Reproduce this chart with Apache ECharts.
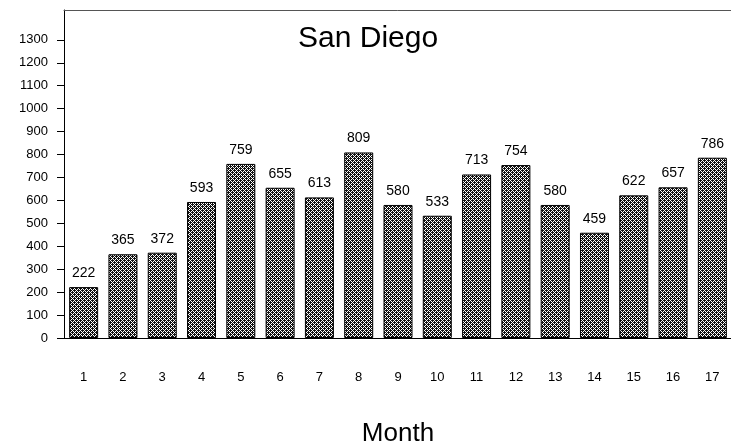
<!DOCTYPE html>
<html>
<head>
<meta charset="utf-8">
<script src="https://cdn.jsdelivr.net/npm/echarts@6/dist/echarts.min.js"></script>
<style>
  html, body { margin: 0; padding: 0; background: #fff; }
  #chart { width: 731px; height: 446px; }
</style>
</head>
<body>
<div id="chart"></div>
<script>
// data
const months = ['1', '2', '3', '4', '5', '6', '7', '8', '9', '10', '11', '12', '13', '14', '15', '16', '17'];
const counts = [222, 365, 372, 593, 759, 655, 613, 809, 580, 533, 713, 754, 580, 459, 622, 657, 786];
const yTicks = [0, 100, 200, 300, 400, 500, 600, 700, 800, 900, 1000, 1100, 1200, 1300];

const FONT = 'Liberation Sans';

// small crosshatch tile for the bar fill
function hatchTile() {
  const c = document.createElement('canvas');
  c.width = 4; c.height = 4;
  const ctx = c.getContext('2d');
  ctx.fillStyle = '#111';
  ctx.fillRect(0, 0, 4, 4);
  ctx.fillStyle = '#fff';
  const holes = [[1, 1], [3, 3], [1, 3], [3, 1], [0, 2], [2, 0]];
  holes.forEach(p => ctx.fillRect(p[0], p[1], 1, 1));
  return c;
}

const chart = echarts.init(document.getElementById('chart'), null, { renderer: 'canvas' });

const option = {
  backgroundColor: '#fff',
  animation: false,
  title: {
    text: 'San Diego',
    left: 298,
    top: 24,
    padding: 0,
    textStyle: { fontFamily: FONT, fontSize: 30, fontWeight: 'normal', color: '#000' }
  },
  // outerBoundsMode none: keep the grid where it is, the axis name may sit near the edge
  grid: { left: 64, right: -1, top: 10, bottom: 108, containLabel: false, outerBoundsMode: 'none' },
  xAxis: [{
    type: 'category',
    data: months,
    position: 'bottom',
    name: 'Month',
    nameLocation: 'middle',
    nameGap: 83,
    nameTextStyle: { fontFamily: FONT, fontSize: 26, color: '#000' },
    axisLine: { lineStyle: { color: '#000', width: 1 } },
    axisTick: { show: false },
    axisLabel: { margin: 33, fontFamily: FONT, fontSize: 13, color: '#000' }
  }, {
    // top frame line only
    type: 'category',
    data: months,
    position: 'top',
    axisLine: { show: true, lineStyle: { color: '#555', width: 1 } },
    axisTick: { show: false },
    axisLabel: { show: false }
  }],
  yAxis: {
    type: 'value',
    min: 0,
    max: 1430,
    interval: 100,
    axisLine: { show: true, lineStyle: { color: '#000', width: 1 } },
    axisTick: { show: true, length: 7, customValues: yTicks, lineStyle: { color: '#000' } },
    axisLabel: {
      margin: 16,
      customValues: yTicks,
      formatter: v => String(v),
      fontFamily: FONT,
      fontSize: 13,
      color: '#000'
    },
    splitLine: { show: false }
  },
  series: [{
    type: 'bar',
    data: counts,
    barWidth: 29,
    itemStyle: {
      color: { image: hatchTile(), repeat: 'repeat' },
      borderColor: '#000',
      borderWidth: 1
    },
    label: {
      show: true,
      position: 'top',
      distance: 7,
      fontFamily: FONT,
      fontSize: 14,
      color: '#000'
    }
  }]
};

chart.setOption(option);
</script>
</body>
</html>
